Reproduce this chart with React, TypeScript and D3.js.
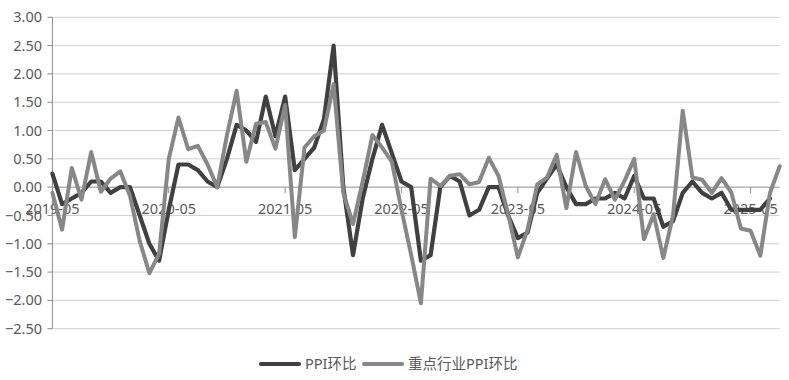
import React from "react";
import * as d3 from "d3";

// Categories: monthly from 2019-05 to 2025-08
const categories: string[] = d3.timeMonth
  .range(new Date(2019, 4, 1), new Date(2025, 8, 1))
  .map((d) => d3.timeFormat("%Y-%m")(d));

const xTickLabels = ["2019-05", "2020-05", "2021-05", "2022-05", "2023-05", "2024-05", "2025-05"];
const yTicks = [3, 2.5, 2, 1.5, 1, 0.5, 0, -0.5, -1, -1.5, -2, -2.5];

const seriesNames = ["PPI环比", "重点行业PPI环比"];

const ppiMoM: (number | null)[] = [
  0.24, -0.3, -0.2, -0.1, 0.1, 0.1, -0.1, 0.0, 0.0, -0.5, -1.0, -1.3,
  -0.4, 0.4, 0.4, 0.3, 0.1, 0.0, 0.5, 1.1, 1.0, 0.8, 1.6, 0.9,
  1.6, 0.3, 0.5, 0.7, 1.2, 2.5, 0.0, -1.2, -0.2, 0.5, 1.1, 0.6,
  0.1, 0.0, -1.3, -1.2, 0.0, 0.2, 0.1, -0.5, -0.4, 0.0, 0.0, -0.5,
  -0.9, -0.8, -0.1, 0.15, 0.4, 0.0, -0.3, -0.3, -0.2, -0.2, -0.1, -0.2,
  0.2, -0.2, -0.2, -0.7, -0.6, -0.1, 0.1, -0.1, -0.2, -0.1, -0.4, -0.4,
  -0.4, -0.4, -0.2, null,
];

const keyIndustryMoM: (number | null)[] = [
  -0.1, -0.75, 0.34, -0.22, 0.62, -0.08, 0.15, 0.28, -0.15, -0.95, -1.52, -1.18,
  0.5, 1.23, 0.67, 0.73, 0.4, 0.0, 0.92, 1.7, 0.45, 1.12, 1.15, 0.68,
  1.45, -0.88, 0.7, 0.9, 1.0, 1.82, -0.1, -0.65, 0.1, 0.92, 0.7, 0.45,
  -0.4, -1.2, -2.05, 0.15, 0.02, 0.2, 0.23, 0.05, 0.09, 0.52, 0.2, -0.48,
  -1.24, -0.75, 0.05, 0.17, 0.57, -0.37, 0.62, 0.02, -0.3, 0.14, -0.22, 0.11,
  0.5, -0.92, -0.48, -1.25, -0.5, 1.35, 0.17, 0.13, -0.1, 0.16, -0.09, -0.73,
  -0.77, -1.21, -0.1, 0.37,
];

const W = 789;
const H = 380;
const plotLeft = 52.4;
const plotRight = 779.7;
const plotTop = 17.3;
const plotBottom = 328.7;

const FONT = "'Noto Sans', 'Noto Sans CJK SC', sans-serif";
const TEXT = "#595959";
const DARK = "#404040";
const LIGHT = "#878787";

export default function App() {
  const x = d3.scalePoint<string>().domain(categories).range([plotLeft, plotRight]);
  const y = d3.scaleLinear().domain([-2.5, 3]).range([plotBottom, plotTop]);

  const line = d3
    .line<number | null>()
    .defined((d) => d !== null)
    .x((_, i) => x(categories[i]) as number)
    .y((d) => y(d as number));

  const y0 = y(0);

  return (
    <svg
      width={W}
      height={H}
      style={{ position: "absolute", left: 0, top: 0, background: "#fff" }}
      fontFamily={FONT}
    >
      <rect x={0} y={0} width={W} height={H} fill="#fff" />
      {/* gridlines */}
      {yTicks.map((t) => (
        <line
          key={"g" + t}
          x1={plotLeft}
          x2={plotRight}
          y1={y(t)}
          y2={y(t)}
          stroke={t === 0 ? "#8c8c8c" : "#d0d0d0"}
          strokeWidth={1}
        />
      ))}
      {/* y axis */}
      <line x1={plotLeft} x2={plotLeft} y1={plotTop} y2={plotBottom} stroke="#8c8c8c" strokeWidth={1} />
      {yTicks.map((t) => (
        <g key={"yt" + t}>
          <line x1={plotLeft - 5} x2={plotLeft} y1={y(t)} y2={y(t)} stroke="#8c8c8c" strokeWidth={1} />
          <text
            x={42}
            y={y(t)}
            dy="0.35em"
            textAnchor="end"
            fontSize={14.5}
            fill={TEXT}
          >
            {d3.format(".2f")(t)}
          </text>
        </g>
      ))}
      {/* x ticks and labels */}
      {xTickLabels.map((lab) => (
        <g key={"xt" + lab}>
          <line
            x1={x(lab) as number}
            x2={x(lab) as number}
            y1={y0}
            y2={y0 + 6}
            stroke="#8c8c8c"
            strokeWidth={1}
          />
          <text
            x={x(lab) as number}
            y={y0 + 22}
            dy="0.35em"
            textAnchor="middle"
            fontSize={14.5}
            fill={TEXT}
          >
            {lab}
          </text>
        </g>
      ))}
      {/* lines */}
      <path
        d={line(ppiMoM) || ""}
        fill="none"
        stroke={DARK}
        strokeWidth={4.2}
        strokeLinejoin="round"
        strokeLinecap="round"
      />
      <path
        d={line(keyIndustryMoM) || ""}
        fill="none"
        stroke={LIGHT}
        strokeWidth={4}
        strokeLinejoin="round"
        strokeLinecap="round"
      />
      {/* legend */}
      <g>
        <line x1={261} x2={299} y1={364} y2={364} stroke={DARK} strokeWidth={4.2} strokeLinecap="round" />
        <text x={305} y={364} dy="0.35em" fontSize={14.5} fill={TEXT}>
          {seriesNames[0]}
        </text>
        <line x1={364} x2={402} y1={364} y2={364} stroke={LIGHT} strokeWidth={4} strokeLinecap="round" />
        <text x={408} y={364} dy="0.35em" fontSize={14.5} fill={TEXT}>
          {seriesNames[1]}
        </text>
      </g>
    </svg>
  );
}
